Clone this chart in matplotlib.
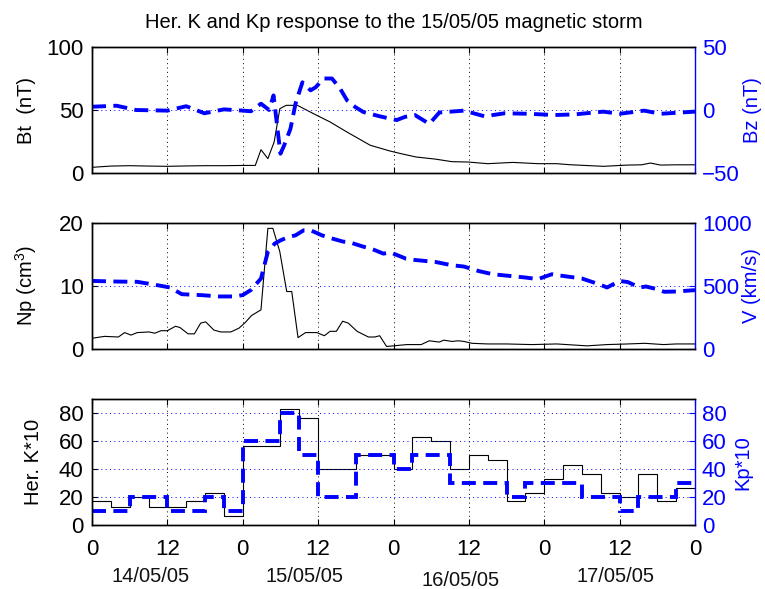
import matplotlib
matplotlib.use("Agg")
import matplotlib.pyplot as plt
import numpy as np

plt.rcParams['font.family'] = ['Liberation Sans', 'DejaVu Sans']
plt.rcParams['mathtext.fontset'] = 'custom'
plt.rcParams['mathtext.rm'] = 'Liberation Sans'
plt.rcParams['mathtext.it'] = 'Liberation Sans:italic'

# ---------------- data (hours from 14/05/05 00 UT) ----------------
bt_t = [0, 3, 6, 9, 12, 15, 18, 21, 24, 26, 26.9, 28, 29, 29.9, 30.9, 32.7, 35.3, 37.9,
        40.6, 44.3, 47.4, 49.5, 51.6, 54.7, 57.3, 59.9, 63, 67, 71, 74, 76, 81.4, 85.3,
        87.5, 88.9, 90.5, 93, 96]
bt_v = [4.5, 5.5, 5.8, 5.5, 5.3, 5.6, 5.8, 5.8, 6, 6, 18.5, 11.4, 24.6, 51, 53.7, 53.7,
        47, 40.5, 32.5, 22, 17.5, 15, 12.7, 11, 9, 8.7, 7.4, 8.4, 7.4, 7.4, 6.6, 5.3, 6.3,
        6.5, 7.9, 6.3, 6.5, 6.5]

bz_t = [0, 3.9, 7, 12, 15, 17.9, 21, 24, 25.3, 26.9, 28.2, 28.9, 29.4, 30, 30.6, 31.6,
        32.4, 33.5, 34.8, 35.6, 36.9, 38.2, 39.5, 40.6, 41.9, 43.2, 45.8, 48.5, 49.8, 51.4,
        53.7, 55.3, 59.2, 62.5, 65.7, 69.5, 73.6, 76.8, 81.4, 84, 87.9, 90.5, 96]
bz_v = [2.6, 3.4, 0, -0.5, 3, -2.6, 0.5, -0.5, -1, 5, 0, 11.6, -9.5, -34.7, -28, -14.8,
        5, 22, 15.6, 18, 25, 25, 17, 7.7, 2.4, -1.6, -5, -8, -5.5, -4, -11, -2, -0.5, -5,
        -2.6, -3, -4, -3.5, -1.3, -3, -0.5, -3, -1.3]

np_t = [0, 2, 4.2, 5.2, 6.2, 7.2, 9.1, 10, 11, 12, 13.3, 14, 15.3, 16.3, 17.3, 18.1, 19.4,
        20.5, 22.1, 23.4, 24.4, 25.4, 26.9, 28, 28.8, 29.9, 31, 31.8, 32.8, 34, 35.8, 37,
        37.9, 38.9, 39.9, 40.8, 42.2, 44, 45, 45.8, 46.9, 48, 50.1, 52.4, 53.7, 55.3, 56,
        57.3, 58.3, 59.2, 60.5, 63, 66, 70, 74, 78.8, 82, 85.3, 88, 91, 93, 96]
np_v = [1.7, 2.0, 1.9, 2.6, 2.2, 2.6, 2.7, 2.5, 2.9, 2.9, 3.6, 3.4, 2.4, 2.4, 4.1, 4.3, 3.0,
        2.7, 2.7, 3.3, 4.2, 5.3, 6.2, 19.1, 19.1, 15.4, 9.1, 9.1, 1.8, 2.6, 2.6, 2.1, 2.8,
        2.8, 4.4, 4.1, 2.8, 1.9, 1.9, 2.1, 0.4, 0.5, 0.7, 0.7, 1.3, 1.1, 1.4, 1.2, 1.3, 1.2,
        0.9, 0.8, 0.8, 0.7, 0.8, 0.5, 0.7, 0.8, 0.9, 0.7, 0.8, 0.8]

v_t = [0, 3.9, 7.2, 11, 12.4, 14.3, 17.6, 20.2, 22.8, 24, 25.3, 26.9, 28, 29.1, 30, 31.3,
       32.4, 33.7, 34.8, 36.6, 38.2, 40, 41, 43.2, 44.3, 46.4, 47.5, 50, 51.4, 54.7, 57.3,
       59.2, 61.5, 63.8, 66.4, 69, 71, 73.2, 74.9, 78, 80.7, 82, 84, 85.3, 87.2, 88.2, 89.9,
       91.1, 93, 96]
v_v = [539, 534, 532, 500, 487, 434, 426, 416, 416, 427, 467, 558, 770, 835, 860, 887, 900,
       940, 940, 900, 875, 850, 845, 810, 797, 755, 765, 715, 705, 689, 663, 653, 618, 592,
       579, 566, 553, 592, 579, 558, 513, 487, 539, 530, 487, 495, 474, 453, 455, 466]

k_edges = list(range(0, 97, 3))
herk_v = [17, 13, 20, 13, 13, 17, 23, 7, 57, 57, 83, 77, 40, 40, 50, 50,
          40, 63, 60, 40, 50, 47, 17, 23, 33, 43, 37, 23, 20, 37, 17, 27]
kp_v = [10, 10, 20, 20, 10, 10, 20, 10, 60, 60, 80, 50, 20, 20, 50, 50,
        40, 50, 50, 30, 30, 30, 20, 30, 30, 30, 20, 20, 10, 20, 20, 30]

xticks = list(range(0, 97, 12))
xtick_labels = ['0', '12', '0', '12', '0', '12', '0', '12', '0']
date_labels = ['14/05/05', '15/05/05', '16/05/05', '17/05/05']
date_x = [9.3, 33.8, 58.6, 83.3]
date_dy = [0, 0, -0.025, 0]

title = 'Her. K and Kp response to the 15/05/05 magnetic storm'

# ---------------- figure ----------------
W, H = 765, 589
fig = plt.figure(figsize=(W / 100, H / 100), dpi=100)
TFS = 16     # tick labels
LFS = 14.5   # axis labels, title, dates
blue = (0, 0, 1)
AX_L, AX_R = 92, 695

def mk(top_px, bot_px):
    return [AX_L / W, 1 - bot_px / H, (AX_R - AX_L) / W, (bot_px - top_px) / H]

positions = [mk(47, 173), mk(222.7, 349), mk(399.3, 525.3)]
dash = (3.6, 1.9)

def px2ax(px):
    return (px - AX_L) / (AX_R - AX_L)

def style(ax, ax2, ylim, yticks, ylim2, yticks2, ylabel, ylabel2, last, lx, rx):
    ax.set_xlim(0, 96)
    ax.set_ylim(*ylim)
    ax.set_yticks(yticks)
    ax2.set_ylim(*ylim2)
    ax2.set_yticks(yticks2)
    ax.set_xticks(xticks)
    if last:
        ax.set_xticklabels(xtick_labels)
    else:
        ax.set_xticklabels([])
    ax.tick_params(axis='both', direction='in', length=4, width=0.8, labelsize=TFS,
                   top=True, pad=6)
    ax.tick_params(axis='x', pad=10)
    ax2.tick_params(axis='y', direction='in', length=4, width=0.8, labelsize=TFS,
                    colors=blue, pad=5)
    ax.grid(axis='x', color='k', linestyle=(0, (1, 3.5)), linewidth=0.7)
    ax2.grid(axis='y', color=blue, linestyle=(0, (1, 3.5)), linewidth=0.7)
    ax.set_ylabel(ylabel, fontsize=LFS)
    ax2.set_ylabel(ylabel2, fontsize=LFS, color=blue)
    ax.yaxis.label.set_va('center')
    ax2.yaxis.label.set_va('center')
    ax.yaxis.set_label_coords(px2ax(lx), 0.5)
    ax2.yaxis.set_label_coords(px2ax(rx), 0.5)
    for s in ['left', 'top', 'bottom']:
        ax.spines[s].set_linewidth(1.0)
        ax2.spines[s].set_linewidth(1.0)
    ax2.spines['right'].set_color(blue)
    ax2.spines['right'].set_linewidth(1.0)
    ax.spines['right'].set_visible(False)

# panel 1
ax1 = fig.add_axes(positions[0])
ax1b = ax1.twinx()
ax1.plot(bt_t, bt_v, color='k', lw=0.8)
ax1b.plot(bz_t, bz_v, color=blue, lw=2.8, linestyle='--', dashes=dash)
style(ax1, ax1b, (0, 100), [0, 50, 100], (-50, 50), [-50, 0, 50], 'Bt  (nT)', 'Bz (nT)',
      False, 26, 753)
ax1.set_title(title, fontsize=LFS, pad=14)

# panel 2
ax2 = fig.add_axes(positions[1])
ax2b = ax2.twinx()
ax2.plot(np_t, np_v, color='k', lw=0.8)
ax2b.plot(v_t, v_v, color=blue, lw=2.8, linestyle='--', dashes=dash)
style(ax2, ax2b, (0, 20), [0, 10, 20], (0, 1000), [0, 500, 1000], 'Np (cm$^3$)', 'V (km/s)',
      False, 26, 752)

# panel 3
ax3 = fig.add_axes(positions[2])
ax3b = ax3.twinx()
ax3.stairs(herk_v, k_edges, baseline=None, color='k', lw=0.8)
ax3b.stairs(kp_v, k_edges, baseline=None, color=blue, lw=2.8, linestyle='--')
for ln in ax3b.patches:
    ln.set_linestyle((0, dash))
style(ax3, ax3b, (0, 90), [0, 20, 40, 60, 80], (0, 90), [0, 20, 40, 60, 80],
      'Her. K*10', 'Kp*10', True, 34, 743)

for lab, xx, dy in zip(date_labels, date_x, date_dy):
    ax3.text(xx, -0.41 + dy, lab, transform=ax3.get_xaxis_transform(),
             ha='center', va='center', fontsize=LFS, color='#111111')

fig.savefig('out.png', dpi=100)
